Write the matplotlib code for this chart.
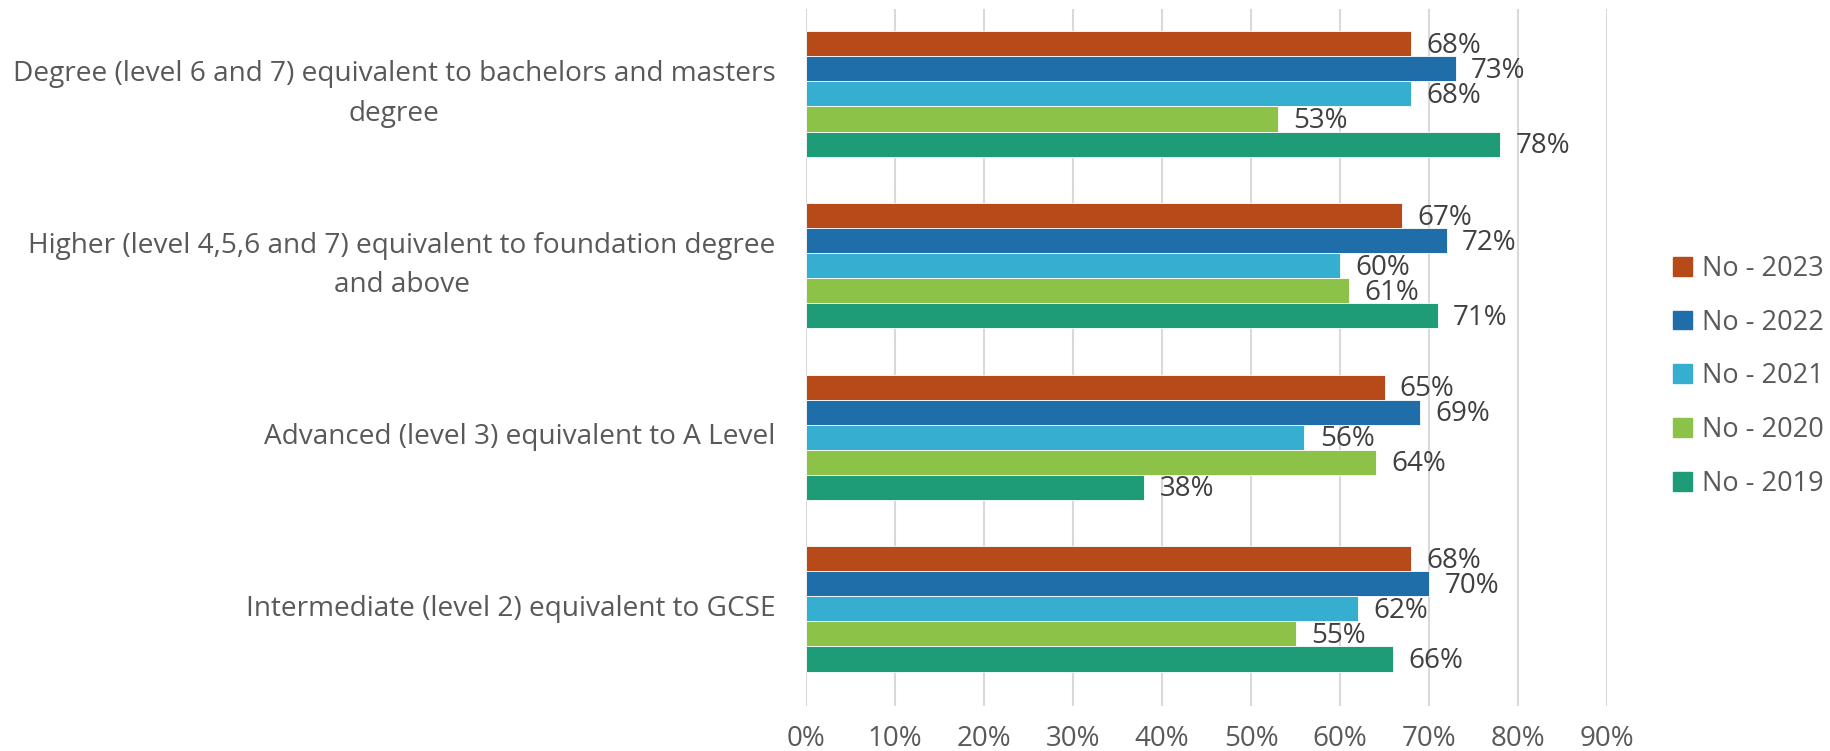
import numpy as np
import matplotlib
matplotlib.use('Agg')
import matplotlib.pyplot as plt
from matplotlib.patches import Patch

plt.rcParams['font.family'] = ['Open Sans', 'DejaVu Sans']

# data
categories = [
    'Degree (level 6 and 7) equivalent to bachelors and masters\ndegree',
    'Higher (level 4,5,6 and 7) equivalent to foundation degree\nand above',
    'Advanced (level 3) equivalent to A Level',
    'Intermediate (level 2) equivalent to GCSE',
]
series_names = ['No - 2023', 'No - 2022', 'No - 2021', 'No - 2020', 'No - 2019']
values = {
    'No - 2023': [0.68, 0.67, 0.65, 0.68],
    'No - 2022': [0.73, 0.72, 0.69, 0.70],
    'No - 2021': [0.68, 0.60, 0.56, 0.62],
    'No - 2020': [0.53, 0.61, 0.64, 0.55],
    'No - 2019': [0.78, 0.71, 0.38, 0.66],
}
colors = ['#B64A18', '#1F6EA9', '#36AECF', '#8CC248', '#1E9B77']
xticks = np.arange(0, 0.91, 0.1)

fig = plt.figure(figsize=(18.31, 7.51), dpi=100)
ax = fig.add_axes([0.4402, 0.0599, 0.4375, 0.9281])

y = np.arange(len(categories))
h = 0.146
n = len(series_names)
for k, (name, col) in enumerate(zip(series_names, colors)):
    pos = y + (k - (n - 1) / 2) * h
    bars = ax.barh(pos, values[name], height=h, color=col, edgecolor='white',
                   linewidth=0.6, zorder=3, label=name)
    for b, v in zip(bars, values[name]):
        ax.annotate(f'{v*100:.0f}%', (v, b.get_y() + b.get_height() / 2),
                    xytext=(11, -1.5), textcoords='offset points', va='center', ha='left',
                    fontsize=20, color='#404040', zorder=4)

ax.set_xlim(0, 0.9)
ax.set_ylim(3.566, -0.495)
ax.set_xticks(xticks)
ax.set_xticklabels([f'{t*100:.0f}%' for t in xticks])
ax.set_yticks(y)
ax.set_yticklabels(categories, multialignment='center', linespacing=1.55, va='center')
ax.tick_params(axis='x', length=0, pad=14, labelsize=20, labelcolor='#595959')
ax.tick_params(axis='y', length=0, pad=22, labelsize=20.2, labelcolor='#595959')
ax.grid(axis='x', color='#D9D9D9', lw=1.5, zorder=0)
for s in ax.spines.values():
    s.set_visible(False)

handles = [Patch(color=c) for c in colors]
fig.legend(handles, series_names, loc='center left', bbox_to_anchor=(0.9005, 0.499),
           frameon=False, fontsize=19.5, labelcolor='#595959',
           handlelength=0.68, handleheight=0.68, handletextpad=0.4, labelspacing=0.95)

fig.savefig('out.png', dpi=100)
